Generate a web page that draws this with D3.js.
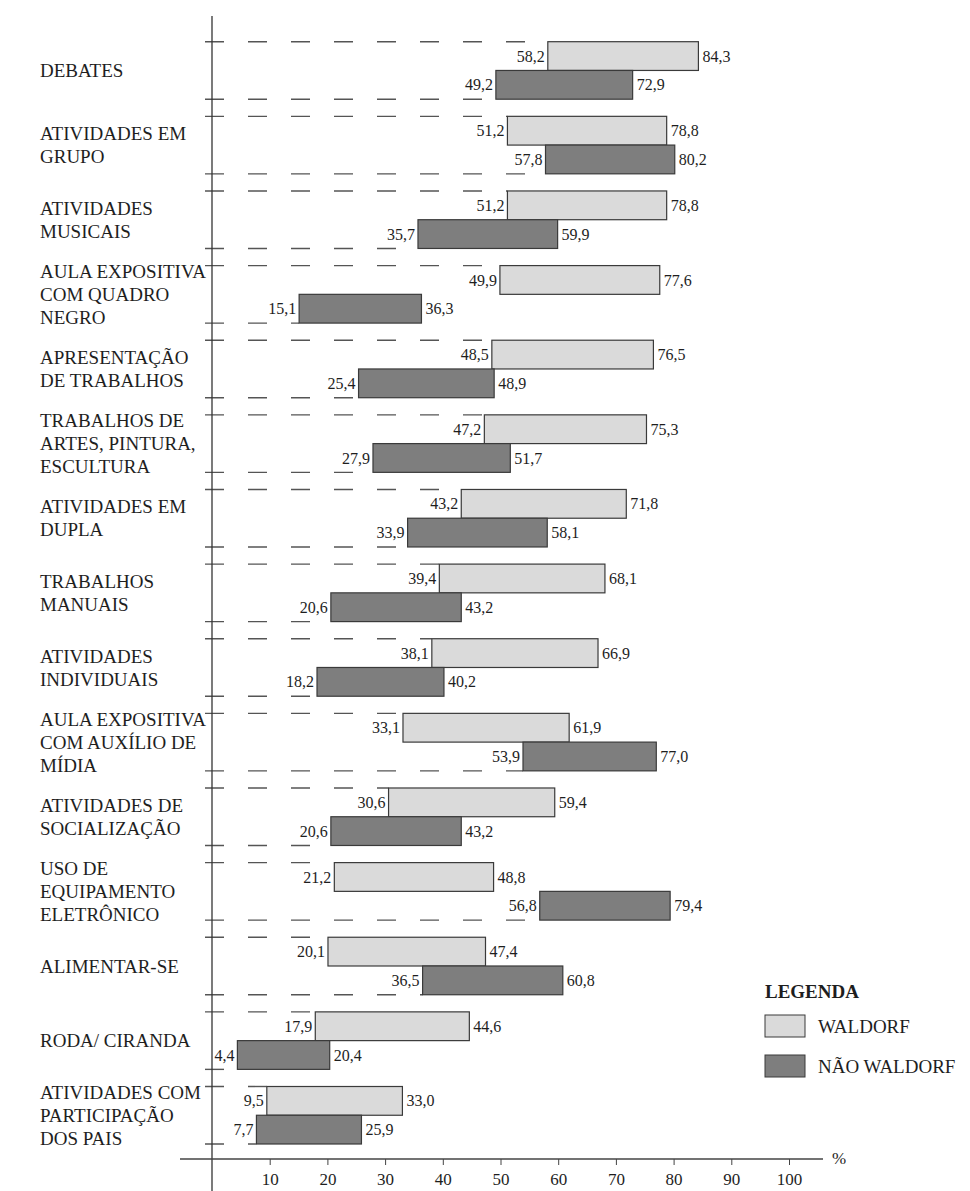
<!DOCTYPE html>
<html>
<head>
<meta charset="utf-8">
<script src="https://cdn.jsdelivr.net/npm/d3@7"></script>
<style>
  html, body { margin: 0; padding: 0; background: #fff; }
  svg { display: block; }
  svg text { font-family: "Liberation Serif", "Times New Roman", "DejaVu Serif", serif; }
</style>
</head>
<body>
<script>
// ---- Data ----
const categories = [
  ["DEBATES"],
  ["ATIVIDADES EM", "GRUPO"],
  ["ATIVIDADES", "MUSICAIS"],
  ["AULA EXPOSITIVA", "COM QUADRO", "NEGRO"],
  ["APRESENTAÇÃO", "DE TRABALHOS"],
  ["TRABALHOS DE", "ARTES, PINTURA,", "ESCULTURA"],
  ["ATIVIDADES EM", "DUPLA"],
  ["TRABALHOS", "MANUAIS"],
  ["ATIVIDADES", "INDIVIDUAIS"],
  ["AULA EXPOSITIVA", "COM AUXÍLIO DE", "MÍDIA"],
  ["ATIVIDADES DE", "SOCIALIZAÇÃO"],
  ["USO DE", "EQUIPAMENTO", "ELETRÔNICO"],
  ["ALIMENTAR-SE"],
  ["RODA/ CIRANDA"],
  ["ATIVIDADES COM", "PARTICIPAÇÃO", "DOS PAIS"]
];
const waldorfLow  = [58.2, 51.2, 51.2, 49.9, 48.5, 47.2, 43.2, 39.4, 38.1, 33.1, 30.6, 21.2, 20.1, 17.9, 9.5];
const waldorfHigh = [84.3, 78.8, 78.8, 77.6, 76.5, 75.3, 71.8, 68.1, 66.9, 61.9, 59.4, 48.8, 47.4, 44.6, 33.0];
const naoLow      = [49.2, 57.8, 35.7, 15.1, 25.4, 27.9, 33.9, 20.6, 18.2, 53.9, 20.6, 56.8, 36.5, 4.4, 7.7];
const naoHigh     = [72.9, 80.2, 59.9, 36.3, 48.9, 51.7, 58.1, 43.2, 40.2, 77.0, 43.2, 79.4, 60.8, 20.4, 25.9];
const tickValues  = [10, 20, 30, 40, 50, 60, 70, 80, 90, 100];
const seriesNames = ["WALDORF", "NÃO WALDORF"];
const legendTitle = "LEGENDA";
const unitLabel   = "%";

// ---- Setup ----
const W = 970, H = 1191;
const svg = d3.select("body").append("svg").attr("width", W).attr("height", H);

const colors = { w: "#dadada", n: "#7e7e7e", stroke: "#3a3a3a", dash: "#555555", text: "#1e1e1e" };

const x = d3.scaleLinear().domain([0, 100]).range([212, 789]);
const idx = d3.range(categories.length);
const y = d3.scaleBand().domain(idx).range([41.7, 1144]).paddingInner(0.2295).paddingOuter(0);
const bw = y.bandwidth();
const half = bw / 2;

const loc = d3.formatLocale({ decimal: ",", thousands: ".", grouping: [3], currency: ["", ""] });
const fmt = loc.format(".1f");

const rows = idx.map(i => ({
  i, label: categories[i],
  w: [waldorfLow[i], waldorfHigh[i]],
  n: [naoLow[i], naoHigh[i]]
}));

// ---- Dashed guide lines ----
const gDash = svg.append("g");
rows.forEach(r => {
  gDash.append("line")
    .attr("x1", 205).attr("x2", x(r.w[0]))
    .attr("y1", y(r.i)).attr("y2", y(r.i))
    .attr("stroke", colors.dash).attr("stroke-width", 1.4)
    .attr("stroke-dasharray", "19,24");
  gDash.append("line")
    .attr("x1", 205).attr("x2", x(r.n[0]))
    .attr("y1", y(r.i) + bw).attr("y2", y(r.i) + bw)
    .attr("stroke", colors.dash).attr("stroke-width", 1.4)
    .attr("stroke-dasharray", "19,24");
});

// ---- Axes ----
const axisY = 1159;
svg.append("line")
  .attr("x1", x(0)).attr("x2", x(0)).attr("y1", 16).attr("y2", H)
  .attr("stroke", "#333").attr("stroke-width", 1.3);

const xAxis = d3.axisBottom(x).tickValues(tickValues).tickSize(6).tickSizeOuter(0).tickFormat(d3.format("d"));
const gx = svg.append("g").attr("transform", `translate(0,${axisY})`).call(xAxis);
gx.select(".domain").remove();
gx.selectAll(".tick line").attr("stroke", "#444");
gx.selectAll(".tick text")
  .attr("font-family", null)
  .attr("font-size", 17).attr("fill", colors.text).attr("dy", null).attr("y", 26);
svg.append("line")
  .attr("x1", 180).attr("x2", 823).attr("y1", axisY).attr("y2", axisY)
  .attr("stroke", "#444").attr("stroke-width", 1.3);
svg.append("text").attr("x", 832).attr("y", axisY + 5)
  .attr("font-size", 17).attr("fill", colors.text).text(unitLabel);

// ---- Bars ----
const gBars = svg.append("g");
const bars = [];
rows.forEach(r => {
  bars.push({ i: r.i, v: r.w, off: 0, fill: colors.w });
  bars.push({ i: r.i, v: r.n, off: half, fill: colors.n });
});
gBars.selectAll("rect").data(bars).join("rect")
  .attr("x", d => x(d.v[0]))
  .attr("y", d => y(d.i) + d.off)
  .attr("width", d => x(d.v[1]) - x(d.v[0]))
  .attr("height", half)
  .attr("fill", d => d.fill)
  .attr("stroke", colors.stroke).attr("stroke-width", 1.2);

// value labels
gBars.selectAll("text.lo").data(bars).join("text").attr("class", "lo")
  .attr("x", d => x(d.v[0]) - 3)
  .attr("y", d => y(d.i) + d.off + half / 2)
  .attr("dy", "0.35em").attr("text-anchor", "end")
  .attr("font-size", 16).attr("fill", colors.text)
  .text(d => fmt(d.v[0]));
gBars.selectAll("text.hi").data(bars).join("text").attr("class", "hi")
  .attr("x", d => x(d.v[1]) + 4)
  .attr("y", d => y(d.i) + d.off + half / 2)
  .attr("dy", "0.35em").attr("text-anchor", "start")
  .attr("font-size", 16).attr("fill", colors.text)
  .text(d => fmt(d.v[1]));

// ---- Category labels ----
const lineH = 23;
const gLab = svg.append("g");
rows.forEach(r => {
  const n = r.label.length;
  const cy = y(r.i) + bw / 2;
  const t = gLab.append("text").attr("font-size", 19).attr("fill", colors.text);
  r.label.forEach((s, k) => {
    t.append("tspan").attr("x", 40)
      .attr("y", cy + (k - (n - 1) / 2) * lineH)
      .attr("dy", "0.35em").text(s);
  });
});

// ---- Legend ----
const lg = svg.append("g");
lg.append("text").attr("x", 765).attr("y", 998).attr("font-size", 19)
  .attr("font-weight", "bold").attr("fill", colors.text).text(legendTitle);
const legendColors = [colors.w, colors.n];
seriesNames.forEach((s, k) => {
  const yy = 1015 + k * 40;
  lg.append("rect").attr("x", 765).attr("y", yy).attr("width", 40).attr("height", 22)
    .attr("fill", legendColors[k]).attr("stroke", colors.stroke).attr("stroke-width", 1);
  lg.append("text").attr("x", 818).attr("y", yy + 11).attr("dy", "0.35em")
    .attr("font-size", 19).attr("fill", colors.text).text(s);
});
</script>
</body>
</html>
